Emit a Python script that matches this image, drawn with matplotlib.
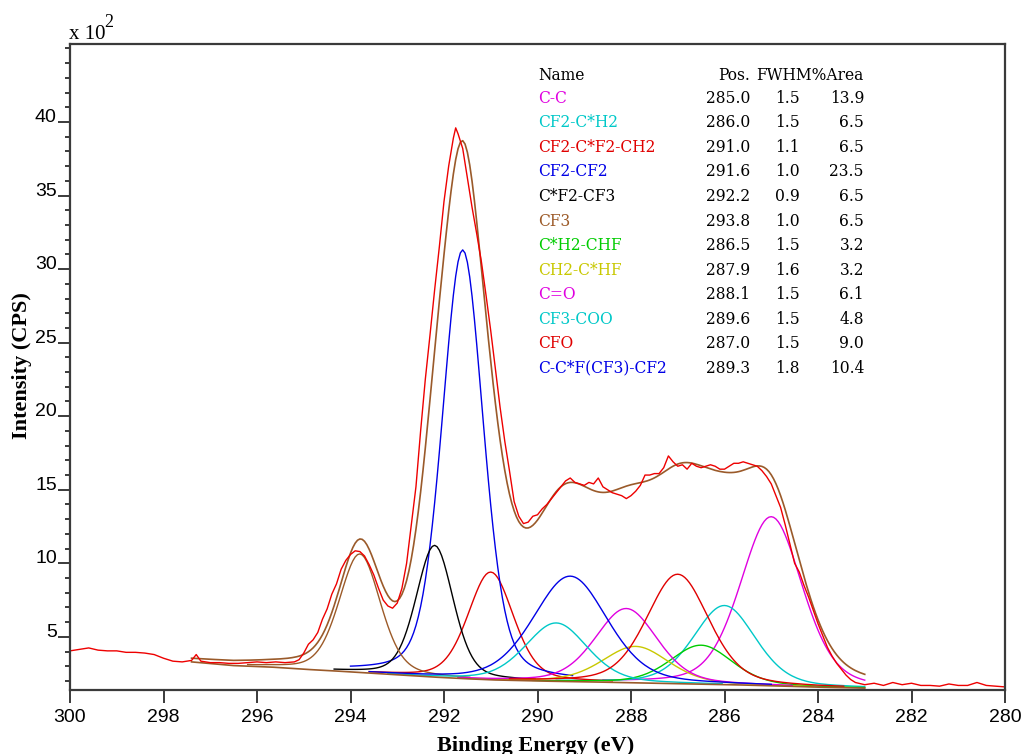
import numpy as np
import matplotlib
matplotlib.use("Agg")
import matplotlib.pyplot as plt
from matplotlib.ticker import MultipleLocator

# C 1s spectrum, counts in units of 100 CPS
raw_ev = [300.0, 299.8, 299.6, 299.4, 299.2, 299.0, 298.8, 298.6, 298.4, 298.2,
          298.0, 297.8, 297.6, 297.4, 297.3, 297.2, 297.0, 296.8, 296.6, 296.4,
          296.2, 296.0, 295.8, 295.6, 295.4, 295.2, 295.1, 295.0, 294.9, 294.8,
          294.7, 294.6, 294.5, 294.4, 294.3, 294.2, 294.1, 294.0, 293.9, 293.8,
          293.7, 293.6, 293.5, 293.4, 293.3, 293.2, 293.1, 293.0, 292.9, 292.8,
          292.7, 292.6, 292.5, 292.4, 292.3, 292.2, 292.1, 292.0, 291.9, 291.8,
          291.75, 291.7, 291.6, 291.5, 291.4, 291.3, 291.2, 291.1, 291.0, 290.9,
          290.8, 290.7, 290.6, 290.5, 290.4, 290.3, 290.2, 290.1, 290.0, 289.9,
          289.8, 289.7, 289.6, 289.5, 289.4, 289.3, 289.2, 289.1, 289.0, 288.9,
          288.8, 288.7, 288.6, 288.5, 288.4, 288.3, 288.2, 288.1, 288.0, 287.9,
          287.8, 287.7, 287.6, 287.5, 287.4, 287.3, 287.2, 287.1, 287.0, 286.9,
          286.8, 286.7, 286.6, 286.5, 286.4, 286.3, 286.2, 286.1, 286.0, 285.9,
          285.8, 285.7, 285.6, 285.5, 285.4, 285.3, 285.2, 285.1, 285.0, 284.9,
          284.8, 284.7, 284.6, 284.5, 284.4, 284.3, 284.2, 284.1, 284.0, 283.9,
          283.8, 283.7, 283.6, 283.5, 283.4, 283.3, 283.2, 283.0, 282.8, 282.6,
          282.4, 282.2, 282.0, 281.8, 281.6, 281.4, 281.2, 281.0, 280.8, 280.6,
          280.4, 280.2, 280.0]
raw_cps = [4.05, 4.15, 4.25, 4.1, 4.05, 4.05, 3.95, 3.95, 3.9, 3.8,
           3.55, 3.35, 3.3, 3.4, 3.8, 3.35, 3.25, 3.25, 3.2, 3.2,
           3.25, 3.3, 3.25, 3.3, 3.25, 3.3, 3.45, 3.9, 4.5, 4.8,
           5.3, 6.2, 6.9, 7.9, 8.6, 9.6, 10.2, 10.6, 10.85, 10.8,
           10.5, 9.9, 9.2, 8.3, 7.5, 7.1, 6.95, 7.3, 8.3, 10.0,
           12.6, 15.2, 19.0, 22.5, 25.5, 28.6, 31.5, 34.6, 37.0, 38.9,
           39.6, 39.2, 38.2, 36.2, 34.2, 32.4, 30.5, 28.2, 25.8, 23.2,
           20.6, 18.3, 16.3, 14.2, 13.2, 12.7, 12.8, 13.2, 13.3, 13.7,
           14.0, 14.4, 14.8, 15.2, 15.6, 15.8, 15.5, 15.4, 15.3, 15.5,
           15.4, 15.8, 15.2, 15.0, 14.8, 14.7, 14.6, 14.4, 14.6, 14.9,
           15.3, 16.0, 16.0, 16.1, 16.1, 16.5, 17.3, 16.9, 16.6, 16.7,
           16.4, 16.8, 16.6, 16.5, 16.6, 16.7, 16.6, 16.4, 16.4, 16.6,
           16.8, 16.8, 16.9, 16.8, 16.7, 16.6, 16.3, 15.9, 15.4, 14.6,
           13.8, 12.6, 11.3, 10.0, 9.4, 8.5, 7.7, 6.8, 5.9, 5.1,
           4.3, 3.7, 3.2, 2.8, 2.4, 2.1, 1.9, 1.75, 1.85, 1.7,
           1.9, 1.75, 1.85, 1.7, 1.7, 1.65, 1.8, 1.7, 1.7, 1.9,
           1.7, 1.65, 1.6]

# Shirley background under the fit region
bg_ev = [297.4, 296.5, 295.7, 295.0, 294.4, 293.4, 292.4, 291.7, 291.0, 290.0,
         289.0, 288.0, 287.0, 286.0, 285.0, 284.0, 283.0]
bg_cps = [3.3, 3.05, 2.95, 2.8, 2.7, 2.5, 2.3, 2.18, 2.08, 2.0,
          1.95, 1.88, 1.82, 1.76, 1.68, 1.58, 1.52]

# fitted components
names = ["C-C", "CF2-C*H2", "CF2-C*F2-CH2", "CF2-CF2", "C*F2-CF3", "CF3",
         "C*H2-CHF", "CH2-C*HF", "C=O", "CF3-COO", "CFO", "C-C*F(CF3)-CF2"]
pos = [285.0, 286.0, 291.0, 291.6, 292.2, 293.8, 286.5, 287.9, 288.1, 289.6, 287.0, 289.3]
fwhm = [1.5, 1.5, 1.1, 1.0, 0.9, 1.0, 1.5, 1.6, 1.5, 1.5, 1.5, 1.8]
area = [13.9, 6.5, 6.5, 23.5, 6.5, 6.5, 3.2, 3.2, 6.1, 4.8, 9.0, 10.4]
colors = ["#e000e0", "#00c8c8", "#e00000", "#0000e6", "#000000", "#9c5a28",
          "#00cc00", "#c8c800", "#e000e0", "#00c8c8", "#e00000", "#0000e6"]

counts_per_area = 1.24   # peak height = counts_per_area * %area / fwhm
width_scale = 1.04       # drawn line width relative to tabulated FWHM
lorentz_frac = 0.3
brown = "#9a5a2a"


def gl_peak(x, x0, w, h):
    u = (x - x0) / w
    g = np.exp(-4 * np.log(2) * u ** 2)
    l = 1.0 / (1.0 + 4 * u ** 2)
    return h * ((1 - lorentz_frac) * g + lorentz_frac * l)


fig = plt.figure(figsize=(10.23, 7.54), dpi=100)
ax = fig.add_axes([70 / 1023, 64 / 754, 935 / 1023, 646 / 754])

x = np.linspace(297.4, 283.0, 289)
bg = np.interp(x, bg_ev[::-1], bg_cps[::-1])
envelope = bg.copy()
for p, w, a, c in zip(pos, fwhm, area, colors):
    y = gl_peak(x, p, w * width_scale, counts_per_area * a / w)
    envelope += y
    m = np.abs(x - p) <= 2.4 * w
    ax.plot(x[m], bg[m] + y[m], color=c, lw=1.0)

ax.plot(x, bg, color=brown, lw=1.2)
ax.plot(x, envelope, color=brown, lw=1.2)
ax.plot(raw_ev, raw_cps, color="#ee0000", lw=1.0)

ax.set_xlim(300, 280)
ax.set_ylim(1.39, 45.3)
ax.xaxis.set_major_locator(MultipleLocator(2))
ax.yaxis.set_minor_locator(MultipleLocator(1))
ax.set_yticks([5, 10, 15, 20, 25, 30, 35, 40])
for s in ax.spines.values():
    s.set_color("#3a3a3a")
    s.set_linewidth(1.6)
ax.tick_params(axis="x", which="major", length=9.5, width=1.4, color="#3a3a3a",
               pad=4, labelsize=14)
ax.tick_params(axis="y", which="major", length=8.5, width=1.4, color="#3a3a3a",
               pad=1, labelsize=14)
ax.tick_params(axis="y", which="minor", length=3.6, width=1.4, color="#3a3a3a")
for lab in ax.get_xticklabels() + ax.get_yticklabels():
    lab.set_fontfamily("Liberation Sans")
for lab in ax.get_yticklabels():
    lab.set_verticalalignment("baseline")

fig.text(69 / 1023, 1 - 39 / 754, "x 10", family="Liberation Serif", fontsize=15,
         va="baseline", ha="left")
fig.text(104 / 1023, 1 - 27 / 754, "2", family="Liberation Serif", fontsize=13,
         va="baseline", ha="left")
fig.text(536 / 1023, 3 / 754, "Binding Energy (eV)", family="Liberation Serif",
         fontweight="bold", fontsize=16, ha="center", va="baseline")
fig.text(22 / 1023, 1 - 366 / 754, "Intensity (CPS)", family="Liberation Serif",
         fontweight="bold", fontsize=16, ha="center", va="center", rotation=90)


# peak table
def put(px, py, s, **kw):
    fig.text(px / 1023, 1 - py / 754, s, family="DejaVu Serif", fontsize=11.2,
             va="center", **kw)


put(538, 75, "Name", ha="left")
put(750, 75, "Pos.", ha="right")
put(756, 75, "FWHM%Area", ha="left")
for i, (n, p, w, a, c) in enumerate(zip(names, pos, fwhm, area, colors)):
    yy = 98.3 + i * 24.55
    put(538, yy, n, ha="left", color=c)
    put(750, yy, "%.1f" % p, ha="right")
    put(800, yy, "%.1f" % w, ha="right")
    put(864, yy, "%.1f" % a, ha="right")

fig.savefig("out.png", dpi=100)
